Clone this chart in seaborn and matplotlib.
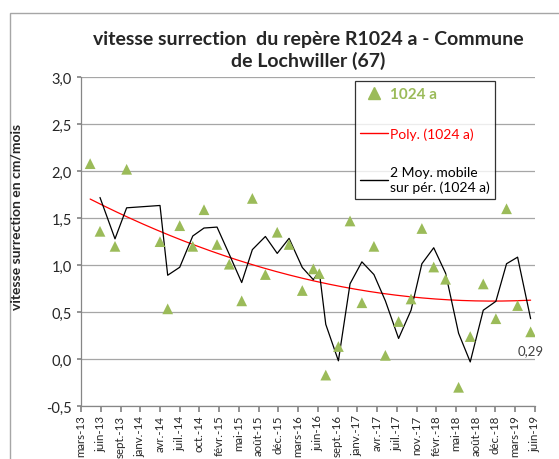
import numpy as np
import pandas as pd
import matplotlib
matplotlib.use("Agg")
import matplotlib.pyplot as plt
import matplotlib.ticker as mticker
from matplotlib.lines import Line2D
from matplotlib.patches import Rectangle
import seaborn as sns

# x positions in "tick index" units (0 = mars-13, 23 = juin-19)
tick_labels = ["mars-13", "juin-13", "sept.-13", "janv.-14", "avr.-14", "juil.-14",
               "oct.-14", "févr.-15", "mai-15", "août-15", "déc.-15", "mars-16",
               "juin-16", "sept.-16", "janv.-17", "avr.-17", "juil.-17", "nov.-17",
               "févr.-18", "mai-18", "août-18", "déc.-18", "mars-19", "juin-19"]
x_pos = [0.46, 0.96, 1.72, 2.31, 4.00, 4.39, 5.00, 5.66, 6.23, 6.89, 7.51, 8.14,
         8.68, 9.34, 9.94, 10.54, 11.21, 11.77, 12.07, 12.40, 13.04, 13.63, 14.23,
         14.84, 15.42, 16.09, 16.72, 17.27, 17.87, 18.47, 19.13, 19.72, 20.38,
         21.02, 21.56, 22.12, 22.78]
vitesse = [2.08, 1.36, 1.20, 2.02, 1.25, 0.535, 1.42, 1.20, 1.59, 1.22, 1.01, 0.62,
           1.71, 0.90, 1.35, 1.22, 0.73, 0.96, 0.91, -0.17, 0.134, 1.47, 0.60,
           1.20, 0.04, 0.40, 0.64, 1.39, 0.98, 0.85, -0.30, 0.24, 0.80,
           0.43, 1.60, 0.57, 0.29]

GREEN = "#9BBB59"
GRID = "#A6A6A6"

df = pd.DataFrame({"x": x_pos, "v": vitesse})
df["ma2"] = df["v"].rolling(2).mean()
coef = np.polyfit(df["x"], df["v"], 2)
xs = np.linspace(df["x"].min(), df["x"].max(), 200)
poly = pd.DataFrame({"x": xs, "p": np.polyval(coef, xs)})

sns.set_theme(style="white")
plt.rcParams["font.family"] = ["Lato", "DejaVu Sans"]

fig = plt.figure(figsize=(5.59, 4.60), dpi=100)
ax = fig.add_axes([0.145, 0.115, 0.812, 0.715])

ax.grid(axis="y", color=GRID, linewidth=0.9)
ax.set_axisbelow(True)
sns.lineplot(data=poly, x="x", y="p", color="red", linewidth=0.9, ax=ax)
sns.lineplot(data=df.dropna(), x="x", y="ma2", color="black", linewidth=0.9, ax=ax)
sns.scatterplot(data=df, x="x", y="v", marker="^", s=60, color=GREEN,
                edgecolor="none", ax=ax, zorder=3)

last = df.iloc[-1]
ax.annotate(f"{last['v']:.2f}".replace(".", ","), (last["x"], last["v"]),
            xytext=(0, -13), textcoords="offset points", ha="center", va="center",
            fontsize=9.5, color="#404040")

ax.set_xlim(0, 23)
ax.set_ylim(-0.5, 3.0)
ax.set_xticks(range(len(tick_labels)))
ax.set_xticklabels(tick_labels, rotation=90, fontsize=8.3)
ax.yaxis.set_major_locator(mticker.MultipleLocator(0.5))
ax.yaxis.set_major_formatter(mticker.FuncFormatter(lambda v, _: f"{v:.1f}".replace(".", ",")))
ax.tick_params(axis="y", labelsize=10.5, length=3, color="#868686", direction="out", left=True)
ax.tick_params(axis="x", length=4, color="#868686", direction="out", bottom=True, pad=2)
ax.set_xlabel("")
ax.set_ylabel("")
for s in ["top", "right"]:
    ax.spines[s].set_visible(False)
for s in ["left", "bottom"]:
    ax.spines[s].set_color("#868686")
    ax.spines[s].set_linewidth(0.9)

ax.set_title("vitesse surrection  du repère R1024 a - Commune\nde Lochwiller (67)",
             fontsize=14, fontweight="bold", pad=8, linespacing=1.3)
fig.text(17 / 559, 1 - 217 / 460, "vitesse surrection en cm/mois", rotation=90,
         ha="center", va="center", fontsize=10, fontweight="bold")

handles = [
    Line2D([], [], marker="^", color=GREEN, linestyle="none", markersize=8),
    Line2D([], [], color="red", linewidth=1),
    Line2D([], [], color="black", linewidth=1),
]
labels = ["1024 a", "Poly. (1024 a)", "2 Moy. mobile\nsur pér. (1024 a)"]
leg = ax.legend(handles, labels, loc="upper left", bbox_to_anchor=(0.603, 0.987),
                borderaxespad=0, frameon=True, fancybox=False, fontsize=10,
                handlelength=2.0, handletextpad=0.15, labelspacing=1.9,
                borderpad=0.4)
leg.get_frame().set_edgecolor("black")
leg.get_frame().set_linewidth(0.9)
for txt, col in zip(leg.get_texts(), [GREEN, "red", "black"]):
    txt.set_color(col)
leg.get_texts()[0].set_fontweight("bold")
leg.get_texts()[0].set_fontsize(11)

fig.patches.append(Rectangle((10 / 559, -0.1), 1.2, 1 - 14 / 460 + 0.1,
                             transform=fig.transFigure, fill=False,
                             edgecolor="#A6A6A6", linewidth=1))

plt.savefig("out.png", dpi=100)
plt.close()
